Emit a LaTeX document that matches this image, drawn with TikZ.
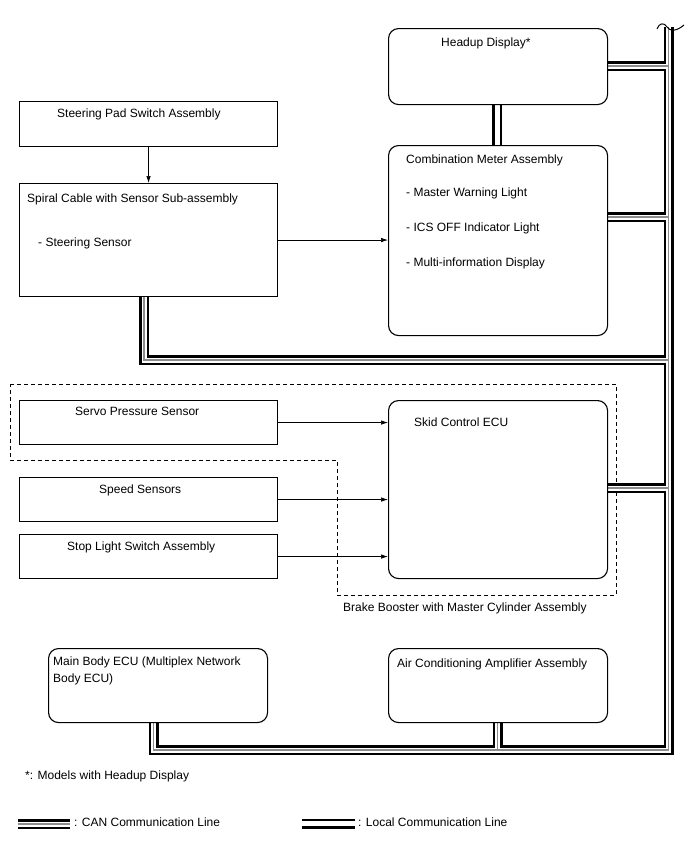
\documentclass[tikz,border=0pt]{standalone}
\usepackage{fontspec}
\setmainfont{Liberation Sans}
\usetikzlibrary{arrows.meta,backgrounds}
\begin{document}
\begin{tikzpicture}[x=1pt,y=-1pt,
  every node/.style={font=\fontsize{12}{14}\selectfont},
  sqbox/.style={draw, line width=1.1pt, fill=white, anchor=north west, inner sep=0pt},
  rbox/.style={sqbox, rounded corners=10pt},
  txt/.style={anchor=base west, inner sep=0pt},
  sig/.style={-{Latex[length=7pt,width=4.5pt]}, line width=0.7pt},
  canblack/.style={line width=10pt, black},
  canwhite/.style={line width=5pt, white},
  cangray/.style={line width=1.5pt, black!45},
  dashbox/.style={dash pattern=on 4pt off 3pt, line width=0.8pt},
]
% boxes
\node[rbox, minimum width=219pt, minimum height=76pt] (hud) at (388,28) {};
\node[sqbox, minimum width=258pt, minimum height=45pt] (pad) at (19,101) {};
\node[sqbox, minimum width=258pt, minimum height=113pt] (spiral) at (19,183) {};
\node[rbox, minimum width=219pt, minimum height=190pt] (meter) at (388,145) {};
\node[sqbox, minimum width=258pt, minimum height=44pt] (servo) at (19,400) {};
\node[sqbox, minimum width=258pt, minimum height=44pt] (speed) at (19,477) {};
\node[sqbox, minimum width=258pt, minimum height=44pt] (stop) at (19,534) {};
\node[rbox, minimum width=219pt, minimum height=178pt] (skid) at (388,400) {};
\node[rbox, minimum width=219pt, minimum height=74pt] (mbody) at (48,648) {};
\node[rbox, minimum width=219pt, minimum height=74pt] (air) at (388,648) {};

% texts
\node[txt] (t1) at (441,46) {Headup Display*};
\node[txt] (t2) at (57,117) {Steering Pad Switch Assembly};
\node[txt] (t3) at (27,202) {Spiral Cable with Sensor Sub-assembly};
\node[txt] (t4) at (38,246) {- Steering Sensor};
\node[txt] (t5) at (406,163) {Combination Meter Assembly};
\node[txt] (t6) at (406,196) {- Master Warning Light};
\node[txt] (t7) at (406,231) {- ICS OFF Indicator Light};
\node[txt] (t8) at (406,266) {- Multi-information Display};
\node[txt] (t9) at (75,415) {Servo Pressure Sensor};
\node[txt] (t10) at (99,493) {Speed Sensors};
\node[txt] (t11) at (67,550) {Stop Light Switch Assembly};
\node[txt] (t12) at (414,426) {Skid Control ECU};
\node[txt] (t13) at (343,611) {Brake Booster with Master Cylinder Assembly};
\node[txt] (t14) at (53,665) {Main Body ECU (Multiplex Network};
\node[txt] (t15) at (53,682) {Body ECU)};
\node[txt] (t16) at (397,667) {Air Conditioning Amplifier Assembly};
\node[txt] (t17) at (25,779) {*: Models with Headup Display};
\node[txt] (t18) at (74,826) {: CAN Communication Line};
\node[txt] (t19) at (358,826) {: Local Communication Line};

% signal arrows
\draw[sig] (pad.south) -- (spiral.north);
\draw[sig] (spiral.east) -- (spiral.east -| meter.west);
\draw[sig] (servo.east) -- (servo.east -| skid.west);
\draw[sig] (speed.east) -- (speed.east -| skid.west);
\draw[sig] (stop.east) -- (stop.east -| skid.west);

% break mark at top of bus
\coordinate (bustop) at (668.5,27);
\draw[line width=1pt] (657,29) .. controls (659,23) and (664,22) .. (667,27) .. controls (670,32) and (677,31) .. (684,25);

\begin{pgfonlayer}{background}
\fill[white] (0,0) rectangle (688,852);
\draw[dashbox] (10,384) -- (616,384) -- (616,595) -- (337,595) -- (337,460) -- (10,460) -- cycle;
\coordinate (busbot) at (668.5,750);
\coordinate (cana) at (18,824);
\coordinate (canb) at (70,824);
\coordinate (loca) at (302,823.5);
\coordinate (locb) at (355,823.5);
\foreach \s in {canblack,canwhite,cangray}{
  \draw[\s] (mbody.south -| 153.5,0) -- (153.5,750) -- (busbot) -- (bustop);
  \draw[\s] (hud.east |- 0,66) -- (bustop |- 0,66);
  \draw[\s] (meter.east |- 0,217) -- (bustop |- 0,217);
  \draw[\s] (spiral.south -| 144,0) -- (144,360) -- (bustop |- 0,360);
  \draw[\s] (skid.east |- 0,488) -- (bustop |- 0,488);
  \draw[\s] (air.south -| 497.5,0) -- (busbot -| 497.5,0);
  \draw[\s] (cana) -- (canb);
}
\foreach \s in {canblack,canwhite}{
  \draw[\s] (hud.south -| 497,0) -- (meter.north -| 497,0);
  \draw[\s] (loca) -- (locb);
}
\end{pgfonlayer}
\end{tikzpicture}
\end{document}
